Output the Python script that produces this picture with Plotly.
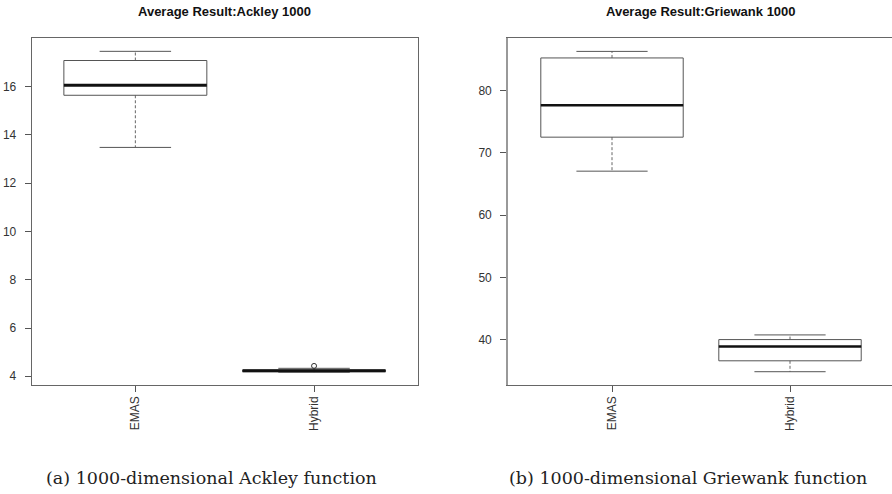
import plotly.graph_objects as go

# ---------------- data ----------------
categories = ["EMAS", "Hybrid"]

ackley_lower = [13.48, 4.17]
ackley_q1 = [15.64, 4.19]
ackley_median = [16.06, 4.23]
ackley_q3 = [17.08, 4.26]
ackley_upper = [17.46, 4.33]
ackley_outliers = [[], [4.43]]

griewank_lower = [67.05, 34.9]
griewank_q1 = [72.5, 36.65]
griewank_median = [77.6, 38.95]
griewank_q3 = [85.2, 40.05]
griewank_upper = [86.25, 40.8]
griewank_outliers = [[], []]

titles = ["Average Result:Ackley 1000", "Average Result:Griewank 1000"]
captions = ["(a) 1000-dimensional Ackley function", "(b) 1000-dimensional Griewank function"]

ackley_ticks = [4, 6, 8, 10, 12, 14, 16]
griewank_ticks = [40, 50, 60, 70, 80]

# ---------------- figure ----------------
W, H = 892, 494
fig = go.Figure()

BOX_HALF = 0.4
CAP_HALF = 0.2
LINE_COL = "#555555"


def add_boxes(lower, q1, med, q3, upper, outliers, xa, ya, med_width):
    for i in range(len(categories)):
        p = i + 1
        # dashed whiskers
        fig.add_trace(go.Scatter(
            x=[p, p, None, p, p], y=[q3[i], upper[i], None, q1[i], lower[i]],
            mode="lines", line=dict(color="#666666", width=1, dash="3px,2px"),
            xaxis=xa, yaxis=ya, hoverinfo="skip", showlegend=False))
        # caps
        fig.add_trace(go.Scatter(
            x=[p - CAP_HALF, p + CAP_HALF, None, p - CAP_HALF, p + CAP_HALF],
            y=[upper[i], upper[i], None, lower[i], lower[i]],
            mode="lines", line=dict(color="#555555", width=1),
            xaxis=xa, yaxis=ya, hoverinfo="skip", showlegend=False))
        # box
        fig.add_trace(go.Scatter(
            x=[p - BOX_HALF, p + BOX_HALF, p + BOX_HALF, p - BOX_HALF, p - BOX_HALF],
            y=[q1[i], q1[i], q3[i], q3[i], q1[i]],
            mode="lines", line=dict(color=LINE_COL, width=1),
            xaxis=xa, yaxis=ya, hoverinfo="skip", showlegend=False))
        # median
        fig.add_trace(go.Scatter(
            x=[p - BOX_HALF, p + BOX_HALF], y=[med[i], med[i]],
            mode="lines", line=dict(color="#111111", width=med_width),
            xaxis=xa, yaxis=ya, hoverinfo="skip", showlegend=False))
        # outliers
        if outliers[i]:
            fig.add_trace(go.Scatter(
                x=[p] * len(outliers[i]), y=outliers[i], mode="markers",
                marker=dict(symbol="circle-open", size=5, color="#333333", line=dict(width=1)),
                xaxis=xa, yaxis=ya, hoverinfo="skip", showlegend=False))


add_boxes(ackley_lower, ackley_q1, ackley_median, ackley_q3, ackley_upper,
          ackley_outliers, "x", "y", 3)
add_boxes(griewank_lower, griewank_q1, griewank_median, griewank_q3, griewank_upper,
          griewank_outliers, "x2", "y2", 2.5)

y_top = 1 - 38.3 / H
y_bot = 1 - 384.5 / H

tickfont = dict(family="Liberation Sans, Arial, sans-serif", size=12, color="#333333")

common_x = dict(
    tickmode="array", tickvals=[1, 2], ticktext=categories, tickangle=-90,
    ticks="outside", ticklen=6, tickcolor="#555555", tickfont=tickfont,
    showgrid=False, zeroline=False, showline=True, linecolor="#666666", linewidth=1,
    fixedrange=True,
)
common_y = dict(
    ticks="outside", ticklen=6, tickcolor="#555555", tickfont=tickfont,
    showgrid=False, zeroline=False, showline=True, linecolor="#666666", linewidth=1,
    ticklabelstandoff=6, fixedrange=True,
)

fig.update_layout(
    width=W, height=H,
    margin=dict(l=0, r=0, t=0, b=0),
    paper_bgcolor="white", plot_bgcolor="white",
    showlegend=False,
    xaxis=dict(domain=[31.7 / W, 417.7 / W], range=[0.42, 2.58], mirror=True,
               anchor="y", **common_x),
    yaxis=dict(domain=[y_bot, y_top], range=[3.66, 18.0], tickvals=ackley_ticks,
               mirror=True, anchor="x", **common_y),
    xaxis2=dict(domain=[507.7 / W, 1.0], range=[0.414, 2.573], mirror=True,
                anchor="y2", **common_x),
    yaxis2=dict(domain=[y_bot, y_top], range=[32.85, 88.35], tickvals=griewank_ticks,
                anchor="x2", **common_y),
)
fig.update_layout(yaxis2_linecolor="#999999", yaxis2_linewidth=1.5)

# titles
title_x = [224.7, 701.0]
for t, xc in zip(titles, title_x):
    fig.add_annotation(
        text="<b>" + t + "</b>", x=xc / W, y=1 - 11.5 / H, xref="paper", yref="paper",
        xanchor="center", yanchor="middle", showarrow=False,
        font=dict(family="Liberation Sans, Arial, sans-serif", size=13, color="#111111"))

# captions
caption_x = [211.0, 687.5]
for c, xc in zip(captions, caption_x):
    fig.add_annotation(
        text=c, x=xc / W, y=1 - 478 / H, xref="paper", yref="paper",
        xanchor="center", yanchor="middle", showarrow=False,
        font=dict(family="DejaVu Serif, serif", size=17.5, color="#222222"))

fig.write_html("out.html", config={"displayModeBar": False, "staticPlot": True})

# remove the default page margin so the figure sits at the window origin
with open("out.html", "r", encoding="utf-8") as f:
    html = f.read()
html = html.replace("<head>", "<head><style>html,body{margin:0;padding:0;overflow:hidden;}</style>", 1)
with open("out.html", "w", encoding="utf-8") as f:
    f.write(html)
